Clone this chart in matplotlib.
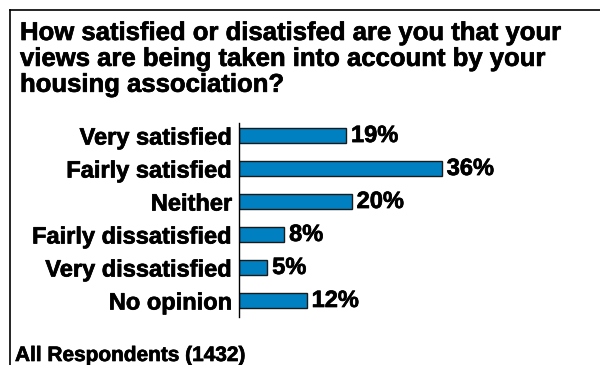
import matplotlib.pyplot as plt
import matplotlib.patheffects as pe
from matplotlib.lines import Line2D

categories = ['Very satisfied', 'Fairly satisfied', 'Neither',
              'Fairly dissatisfied', 'Very dissatisfied', 'No opinion']
percents = [19, 36, 20, 8, 5, 12]

title = ('How satisfied or disatisfed are you that your\n'
         'views are being taken into account by your\n'
         'housing association?')
base_note = 'All Respondents (1432)'

W, H = 600, 365
plt.rcParams['font.family'] = ['Liberation Sans', 'DejaVu Sans']
plt.rcParams['font.weight'] = 'bold'

# slightly heavier strokes on all text
heavy = [pe.withStroke(linewidth=0.5, foreground='black')]

fig = plt.figure(figsize=(W / 100, H / 100), dpi=100)

# frame: a rule along the top and down the left side
fig.add_artist(Line2D([10 / W, 1], [1 - 10 / H, 1 - 10 / H], color='black', lw=1.2))
fig.add_artist(Line2D([10 / W, 10 / W], [0, 1 - 10 / H], color='black', lw=1.2))

fig.text(20 / W, 1 - 21 / H, title, fontsize=18.5, fontweight='bold',
         va='top', ha='left', linespacing=1.1, path_effects=heavy)
fig.text(15 / W, 1 - 361 / H, base_note, fontsize=15, fontweight='bold',
         va='baseline', ha='left', path_effects=heavy)

ax = fig.add_axes([239 / W, 1 - 317 / H, 349 / W, 194 / H])
ypos = list(range(len(categories)))
ax.barh(ypos, percents, height=0.48, color='#0080c0',
        edgecolor='#1a1a1a', linewidth=1)
for y, v in zip(ypos, percents):
    ax.text(v + 0.9, y, f'{v}%', va='center', ha='left',
            fontsize=17, fontweight='bold', path_effects=heavy)

ax.set_xlim(0, 62)
ax.set_ylim(5.5, -0.38)
ax.set_yticks(ypos)
ax.set_yticklabels(categories, fontsize=17, fontweight='bold')
for lab in ax.get_yticklabels():
    lab.set_path_effects(heavy)
ax.tick_params(axis='y', length=0, pad=5)
ax.set_xticks([])
for side in ['top', 'right', 'bottom']:
    ax.spines[side].set_visible(False)
ax.spines['left'].set_linewidth(1)
ax.patch.set_alpha(0)

fig.savefig('out.png', dpi=100)
